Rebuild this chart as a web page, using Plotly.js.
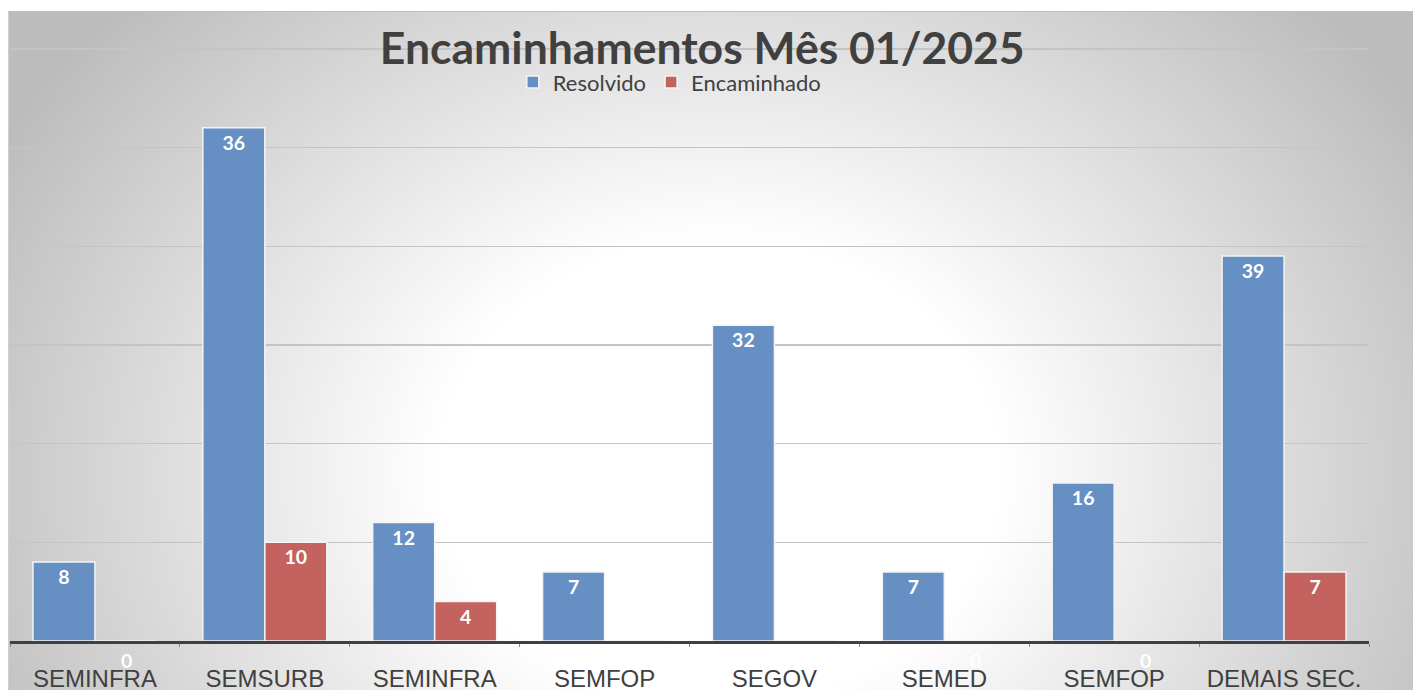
<!DOCTYPE html>
<html>
<head>
<meta charset="utf-8">
<script src="https://cdn.plot.ly/plotly-3.0.1.min.js"></script>
<style>
  html, body { margin: 0; padding: 0; background: #ffffff; width: 1413px; height: 690px; overflow: hidden; }
  #bg { position: absolute; left: 8px; top: 11px; width: 1405px; height: 679px;
        border-top: 1px solid #bdbdbd; border-left: 1px solid #cfcfcf;
        background: radial-gradient(ellipse 820px 680px at 710px 460px, #ffffff 0%, #ffffff 34%, #bcbcbc 100%); }
  #chart { position: absolute; left: 0; top: 0; width: 1413px; height: 690px; }
</style>
</head>
<body>
<div id="bg"></div>
<div id="chart"></div>
<script>
// Categories (x tick labels)
const categories = ["SEMINFRA", "SEMSURB", "SEMINFRA ", "SEMFOP", "SEGOV", "SEMED", "SEMFOP ", "DEMAIS SEC."];
const tickLabels = ["SEMINFRA", "SEMSURB", "SEMINFRA", "SEMFOP", "SEGOV", "SEMED", "SEMFOP", "DEMAIS SEC."];

// "Resolvido" series: bar heights as drawn in the picture
const resolvido = [8, 52, 12, 7, 32, 7, 16, 39];
// data labels as printed on the picture (the SEMSURB bar is labelled 36)
const resolvidoLabels = ["8", "36", "12", "7", "32", "7", "16", "39"];

// "Encaminhado" series
const encaminhado = [0, 10, 4, 0, 0, 0, 0, 7];

const blue = "#6690C4";
const red = "#C3625F";
const labelFont = { family: "Lato, 'Open Sans', sans-serif", size: 19.5, color: "#ffffff", weight: "bold" };

const traces = [
  {
    type: "bar", name: "Resolvido", x: categories, y: resolvido,
    text: resolvidoLabels, textposition: "inside", insidetextanchor: "end",
    constraintext: "none", cliponaxis: false, textfont: labelFont,
    marker: { color: blue, line: { color: "#f4f4f4", width: 1.5 } },
    hoverinfo: "skip"
  },
  {
    type: "bar", name: "Encaminhado", x: categories, y: encaminhado,
    text: encaminhado.map(v => v === 0 ? "" : String(v)), textposition: "inside", insidetextanchor: "end",
    constraintext: "none", cliponaxis: false, textfont: labelFont,
    marker: { color: red, line: { color: "#f4f4f4", width: 1.5 } },
    hoverinfo: "skip"
  }
];

// zero labels for the Encaminhado series, placed under the red bar slot
const annotations = [];
encaminhado.forEach((v, i) => {
  if (v === 0) {
    annotations.push({
      x: i + 0.183, y: 0, xref: "x", yref: "y", text: "0", showarrow: false,
      yshift: -19, font: labelFont
    });
  }
});

const layout = {
  width: 1413, height: 690,
  margin: { l: 10, r: 44, t: 39, b: 49, autoexpand: false },
  paper_bgcolor: "rgba(0,0,0,0)", plot_bgcolor: "rgba(0,0,0,0)",
  title: {
    text: "Encaminhamentos Mês 01/2025",
    font: { family: "Lato, 'Open Sans', sans-serif", size: 44.5, color: "#404040", weight: "bold" },
    x: 0.497, xanchor: "center", y: 0.93, yanchor: "middle", xref: "container", yref: "container",
    automargin: false
  },
  showlegend: true,
  legend: {
    orientation: "h", xref: "container", yref: "container", x: 0.474, xanchor: "center", y: 0.881, yanchor: "middle",
    font: { family: "Lato, 'Open Sans', sans-serif", size: 22, color: "#404040" },
    bgcolor: "rgba(0,0,0,0)", traceorder: "normal"
  },
  barmode: "group", bargap: 0.27, bargroupgap: 0.0,
  xaxis: {
    type: "category", tickvals: categories, ticktext: tickLabels,
    showline: true, linecolor: "#404040", linewidth: 3,
    ticks: "outside", tickson: "boundaries", ticklen: 3, tickcolor: "#8a8a8a",
    tickfont: { family: "'Liberation Sans', Arial, sans-serif", size: 24, color: "#404040" },
    ticklabelstandoff: 14, automargin: false,
    showgrid: false, fixedrange: true
  },
  yaxis: {
    range: [0, 61], tickvals: [10, 20, 30, 40, 50, 60], showticklabels: false, ticks: "", automargin: false,
    showgrid: true, gridcolor: "#c4c4c4", gridwidth: 1.5, zeroline: false, showline: false, fixedrange: true
  },
  annotations: annotations
};

Plotly.newPlot("chart", traces, layout, { displayModeBar: false, staticPlot: true });
</script>
</body>
</html>
